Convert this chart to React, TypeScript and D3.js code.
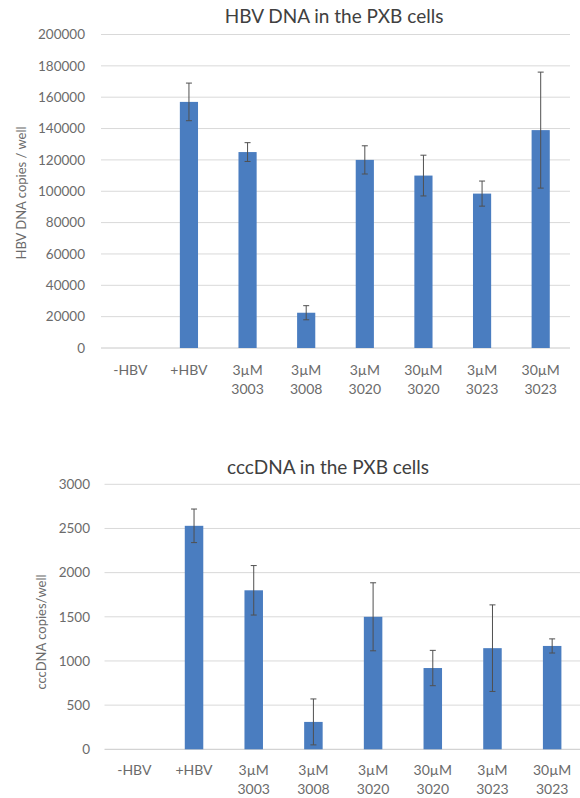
import React from "react";
import * as d3 from "d3";

// Treatment groups shown on both panels (two-line tick labels)
const categories = ["-HBV", "+HBV", "3µM 3003", "3µM 3008", "3µM 3020", "30µM 3020", "3µM 3023", "30µM 3023"];

// HBV DNA copies / well
const hbvValues = [0, 157000, 125000, 22500, 120000, 110000, 98500, 139000];
const hbvErrors = [0, 12000, 6000, 4500, 9000, 13000, 8000, 37000];
const hbvTicks = [0, 20000, 40000, 60000, 80000, 100000, 120000, 140000, 160000, 180000, 200000];

// cccDNA copies / well
const cccValues = [0, 2530, 1800, 310, 1500, 920, 1145, 1170];
const cccErrors = [0, 190, 280, 260, 385, 200, 490, 80];
const cccTicks = [0, 500, 1000, 1500, 2000, 2500, 3000];

const FONT = "Lato, 'Open Sans', sans-serif";
const BAR = "#4a7dc0";
const GRID = "#d9d9d9";
const TEXT = "#6b6b6b";

type PanelProps = {
  title: string;
  yLabel: string;
  values: number[];
  errors: number[];
  ticks: number[];
  x0: number;
  x1: number;
  yTop: number;
  yBottom: number;
  titleX: number;
  titleY: number;
  tickRight: number;
  yLabelX: number;
  yLabelY: number;
  labelY: number;
};

function Panel(p: PanelProps) {
  const x = d3.scaleBand<string>().domain(categories).range([p.x0, p.x1]).paddingInner(0.69).paddingOuter(0.345);
  const y = d3.scaleLinear().domain([0, p.ticks[p.ticks.length - 1]]).range([p.yBottom, p.yTop]);
  const bw = x.bandwidth();
  return (
    <g>
      <text x={p.titleX} y={p.titleY} textAnchor="middle" fontSize={19} fill="#404040" fontFamily={FONT}>
        {p.title}
      </text>
      {p.ticks.map((t) => (
        <g key={t}>
          <line x1={p.x0} x2={p.x1} y1={y(t)} y2={y(t)} stroke={t === 0 ? "#c8c8c8" : GRID} strokeWidth={1} />
          <text x={p.tickRight} y={y(t)} dy="0.35em" textAnchor="end" fontSize={13.5} fill={TEXT} fontFamily={FONT}>
            {t}
          </text>
        </g>
      ))}
      <text
        transform={`translate(${p.yLabelX},${p.yLabelY}) rotate(-90)`}
        textAnchor="middle"
        fontSize={13}
        fill={TEXT}
        fontFamily={FONT}
      >
        {p.yLabel}
      </text>
      {categories.map((c, i) => {
        const cx = (x(c) ?? 0) + bw / 2;
        const v = p.values[i];
        const e = p.errors[i];
        const parts = c.split(" ");
        return (
          <g key={c}>
            {v > 0 && <rect x={x(c)} y={y(v)} width={bw} height={y(0) - y(v)} fill={BAR} />}
            {e > 0 && (
              <g stroke="#505050" strokeWidth={1}>
                <line x1={cx} x2={cx} y1={y(v + e)} y2={y(v - e)} />
                <line x1={cx - 3} x2={cx + 3} y1={y(v + e)} y2={y(v + e)} />
                <line x1={cx - 3} x2={cx + 3} y1={y(v - e)} y2={y(v - e)} />
              </g>
            )}
            {parts.map((s, k) => (
              <text key={k} x={cx} y={p.labelY + k * 19} textAnchor="middle" fontSize={14} fill={TEXT} fontFamily={FONT}>
                {s}
              </text>
            ))}
          </g>
        );
      })}
    </g>
  );
}

export default function App() {
  return (
    <svg width={580} height={798} style={{ position: "absolute", left: 0, top: 0, background: "#fff" }}>
      <Panel
        title="HBV DNA in the PXB cells"
        yLabel="HBV DNA copies / well"
        values={hbvValues}
        errors={hbvErrors}
        ticks={hbvTicks}
        x0={101}
        x1={570}
        yTop={34.5}
        yBottom={348}
        titleX={334}
        titleY={23}
        tickRight={85}
        yLabelX={26}
        yLabelY={193}
        labelY={375}
      />
      <Panel
        title="cccDNA in the PXB cells"
        yLabel="cccDNA copies/well"
        values={cccValues}
        errors={cccErrors}
        ticks={cccTicks}
        x0={104.5}
        x1={582}
        yTop={484.3}
        yBottom={749.3}
        titleX={328}
        titleY={474}
        tickRight={90}
        yLabelX={46}
        yLabelY={632}
        labelY={775}
      />
    </svg>
  );
}
